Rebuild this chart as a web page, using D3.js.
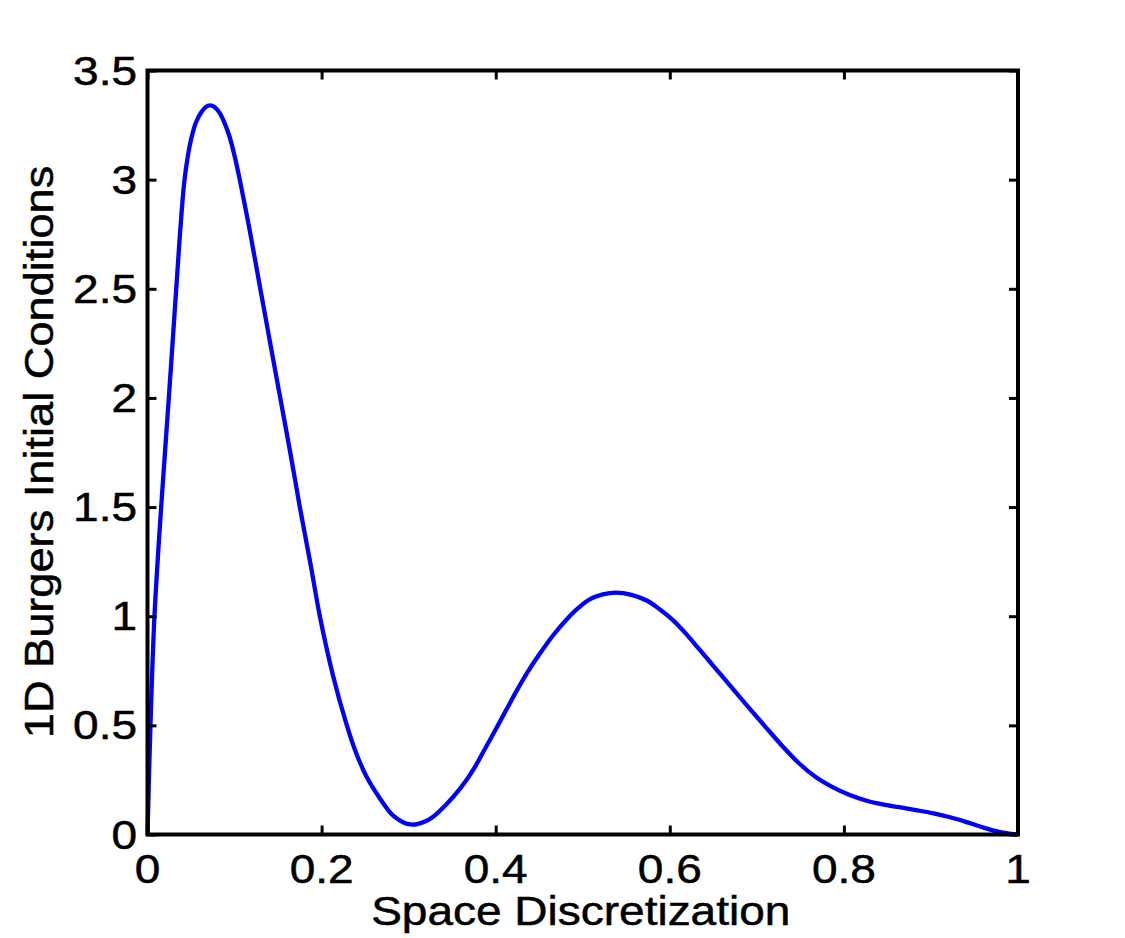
<!DOCTYPE html>
<html>
<head>
<meta charset="utf-8">
<script src="https://cdn.jsdelivr.net/npm/d3@7"></script>
<style>
  html, body { margin: 0; padding: 0; background: #fff; }
  svg { display: block; }
  text { font-family: "Liberation Sans", Arial, Helvetica, sans-serif; fill: #000; stroke: #000; stroke-width: 0.5px; }
</style>
</head>
<body>
<svg id="chart" width="1125" height="938"></svg>
<script>
// ---- data ----
const xValues = [0, 0.0034, 0.008, 0.0157, 0.0245, 0.033, 0.0375, 0.042, 0.046, 0.051, 0.056, 0.062, 0.067, 0.072,
  0.077, 0.083, 0.088, 0.094, 0.1, 0.106, 0.118, 0.1296, 0.141, 0.1525, 0.164, 0.175, 0.187, 0.198,
  0.213, 0.229, 0.24, 0.252, 0.267, 0.28, 0.287, 0.294, 0.3024, 0.31, 0.318, 0.327, 0.3437, 0.36, 0.374,
  0.386, 0.399, 0.412, 0.424, 0.437, 0.451, 0.466, 0.481, 0.495, 0.508, 0.523, 0.5386, 0.556, 0.573,
  0.588, 0.6036, 0.619, 0.634, 0.651, 0.6686, 0.69, 0.7106, 0.73, 0.749, 0.768, 0.787, 0.806, 0.8253,
  0.8445, 0.8635, 0.8825, 0.9017, 0.921, 0.94, 0.96, 0.978, 0.99, 1];
const yValues = [0, 0.5, 1.0, 1.5, 2.0, 2.5, 2.76, 2.98, 3.1, 3.2, 3.265, 3.31, 3.333, 3.34,
  3.333, 3.305, 3.265, 3.2, 3.11, 3.0, 2.755, 2.5, 2.25, 2.0, 1.75, 1.5, 1.245, 1.0,
  0.73, 0.5, 0.37, 0.262, 0.165, 0.095, 0.072, 0.055, 0.046, 0.048, 0.058, 0.078, 0.14, 0.215, 0.295,
  0.38, 0.474, 0.57, 0.658, 0.746, 0.83, 0.913, 0.983, 1.038, 1.077, 1.1, 1.108, 1.098, 1.073,
  1.033, 0.982, 0.918, 0.848, 0.768, 0.685, 0.585, 0.49, 0.402, 0.324, 0.262, 0.217, 0.182, 0.156,
  0.138, 0.125, 0.112, 0.098, 0.08, 0.058, 0.032, 0.012, 0.004, 0];
const xTicks = [0, 0.2, 0.4, 0.6, 0.8, 1];
const xTickLabels = ["0", "0.2", "0.4", "0.6", "0.8", "1"];
const yTicks = [0, 0.5, 1, 1.5, 2, 2.5, 3, 3.5];
const yTickLabels = ["0", "0.5", "1", "1.5", "2", "2.5", "3", "3.5"];
const xTitle = "Space Discretization";
const yTitle = "1D Burgers Initial Conditions";

// ---- layout ----
const plotLeft = 147.5, plotRight = 1018, plotTop = 70.5, plotBottom = 834.5;
const fontSize = 40, stretch = 1.15;

const svg = d3.select("#chart");
const x = d3.scaleLinear().domain([0, 1]).range([plotLeft, plotRight]);
const y = d3.scaleLinear().domain([0, 3.5]).range([plotBottom, plotTop]);

const points = xValues.map((v, i) => [v, yValues[i]]);

// curve
svg.append("path")
  .datum(points)
  .attr("fill", "none")
  .attr("stroke", "#0000ff")
  .attr("stroke-width", 4.3)
  .attr("stroke-linejoin", "round")
  .attr("d", d3.line().x(d => x(d[0])).y(d => y(d[1])).curve(d3.curveCatmullRom.alpha(0.5)));

// axes ticks (inward, all four sides)
const tickLen = 9;
function styleAxis(g) {
  g.selectAll(".domain").remove();
  g.selectAll("text").remove();
  g.selectAll(".tick line").attr("stroke", "#000").attr("stroke-width", 3);
}
svg.append("g").attr("transform", `translate(0,${plotBottom})`)
  .call(d3.axisBottom(x).tickValues(xTicks).tickSize(-tickLen)).call(styleAxis);
svg.append("g").attr("transform", `translate(0,${plotTop})`)
  .call(d3.axisTop(x).tickValues(xTicks).tickSize(-tickLen)).call(styleAxis);
svg.append("g").attr("transform", `translate(${plotLeft},0)`)
  .call(d3.axisLeft(y).tickValues(yTicks).tickSize(-tickLen)).call(styleAxis);
svg.append("g").attr("transform", `translate(${plotRight},0)`)
  .call(d3.axisRight(y).tickValues(yTicks).tickSize(-tickLen)).call(styleAxis);

// frame
svg.append("rect")
  .attr("x", plotLeft).attr("y", plotTop)
  .attr("width", plotRight - plotLeft).attr("height", plotBottom - plotTop)
  .attr("fill", "none").attr("stroke", "#000").attr("stroke-width", 4);

// tick labels
svg.append("g").selectAll("text").data(xTicks).join("text")
  .attr("transform", d => `translate(${x(d)},883) scale(${stretch},1)`)
  .attr("text-anchor", "middle")
  .style("font-size", fontSize + "px")
  .text((d, i) => xTickLabels[i]);

svg.append("g").selectAll("text").data(yTicks).join("text")
  .attr("transform", d => `translate(137,${y(d) + 14}) scale(${stretch},1)`)
  .attr("text-anchor", "end")
  .style("font-size", fontSize + "px")
  .text((d, i) => yTickLabels[i]);

// axis titles
svg.append("text")
  .attr("transform", `translate(${(plotLeft + plotRight) / 2 - 2},925) scale(${stretch},1)`)
  .attr("text-anchor", "middle")
  .style("font-size", fontSize + "px")
  .text(xTitle);

svg.append("text")
  .attr("transform", `translate(53,452) rotate(-90) scale(${stretch - 0.02},1)`)
  .attr("text-anchor", "middle")
  .style("font-size", fontSize + "px")
  .text(yTitle);
</script>
</body>
</html>
